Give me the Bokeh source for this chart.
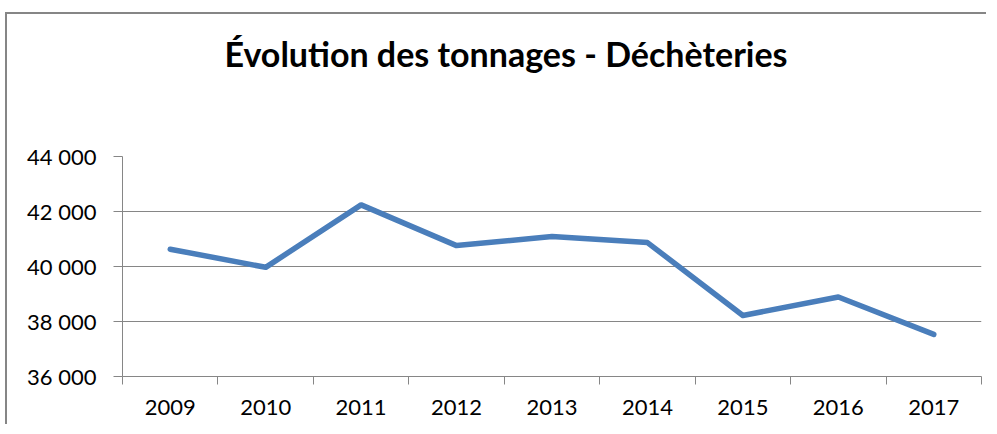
from bokeh.plotting import figure
from bokeh.models import FixedTicker, Range1d, ColumnDataSource, Title
from bokeh.embed import file_html
from bokeh.resources import INLINE

years = ["2009", "2010", "2011", "2012", "2013", "2014", "2015", "2016", "2017"]
tonnages = [40630, 39970, 42240, 40760, 41090, 40870, 38220, 38890, 37530]
y_ticks = [36000, 38000, 40000, 42000, 44000]
y_labels = ["36 000", "38 000", "40 000", "42 000", "44 000"]
title_text = "Évolution des tonnages - Déchèteries"

FONT = "Lato"
GRAY = "#868686"

centers = [i + 0.5 for i in range(len(years))]
bounds = list(range(len(years) + 1))
src = ColumnDataSource(dict(x=centers, y=tonnages))

p = figure(width=981, height=412, output_backend="svg", toolbar_location=None,
           x_range=Range1d(0, len(years)), y_range=Range1d(y_ticks[0], y_ticks[-1]),
           min_border_left=115, min_border_right=7, min_border_top=142, min_border_bottom=50)
p.styles = {"margin-top": "12px", "margin-left": "5px",
            "border-left": f"2px solid {GRAY}", "border-top": f"2px solid {GRAY}"}
p.outline_line_color = None
p.background_fill_color = "white"
p.border_fill_color = "white"

# spacer panel between the frame and the title
spacer = Title(text=" ", text_font_size="10px", standoff=70)
p.add_layout(spacer, "above")

p.title.text = title_text
p.title.align = "left"
p.title.offset = 102
p.title.standoff = 0
p.title.text_font = FONT
p.title.text_font_style = "bold"
p.title.text_font_size = "34px"
p.title.text_color = "black"

p.line("x", "y", source=src, line_color="#4A7EBB", line_width=5.5,
       line_cap="round", line_join="round")

# y axis
p.yaxis.ticker = FixedTicker(ticks=y_ticks, minor_ticks=[])
p.yaxis.major_label_overrides = {t: l for t, l in zip(y_ticks, y_labels)}
p.yaxis.axis_line_color = GRAY
p.yaxis.major_tick_line_color = GRAY
p.yaxis.major_tick_out = 9
p.yaxis.major_tick_in = 0
p.yaxis.minor_tick_line_color = None
p.yaxis.major_label_standoff = 17
p.yaxis.major_label_text_font = FONT
p.yaxis.major_label_text_font_size = "22px"
p.yaxis.major_label_text_color = "black"

# x axis: labels at category centers, ticks at category boundaries
p.xaxis.ticker = FixedTicker(ticks=centers, minor_ticks=bounds)
p.xaxis.major_label_overrides = {c: y for c, y in zip(centers, years)}
p.xaxis.axis_line_color = GRAY
p.xaxis.major_tick_line_color = None
p.xaxis.major_tick_out = 0
p.xaxis.major_tick_in = 0
p.xaxis.minor_tick_line_color = GRAY
p.xaxis.minor_tick_out = 8
p.xaxis.minor_tick_in = 0
p.xaxis.major_label_standoff = 15
p.xaxis.major_label_text_font = FONT
p.xaxis.major_label_text_font_size = "22px"
p.xaxis.major_label_text_color = "black"

p.xgrid.grid_line_color = None
p.ygrid.grid_line_color = GRAY
p.ygrid.grid_line_width = 1

open("out.html", "w").write(file_html(p, INLINE))
